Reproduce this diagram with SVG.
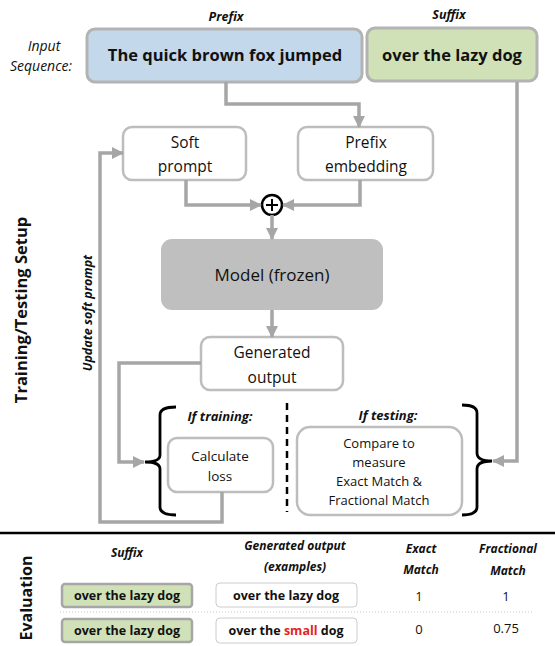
<svg xmlns="http://www.w3.org/2000/svg" width="555" height="646" viewBox="0 0 555 646">
<style>
text{font-family:"Open Sans","Noto Sans","Liberation Sans",sans-serif;fill:#111;text-anchor:middle}
.b{font-weight:bold}
.bi{font-weight:bold;font-style:italic}
.i{font-style:italic}
.box{fill:#fff;stroke:#bdbdbd;stroke-width:2.5}
.conn{fill:none;stroke:#a6a6a6;stroke-width:3.5}
.brace{fill:none;stroke:#000;stroke-width:2.8}
</style>
<defs>
<marker id="ah" markerUnits="userSpaceOnUse" markerWidth="12" markerHeight="12" viewBox="0 0 12 12" refX="11" refY="6" orient="auto">
<path d="M0,0 L12,6 L0,12 z" fill="#a6a6a6"/>
</marker>
</defs>
<rect width="555" height="646" fill="#fff"/>

<g id="labels">
<text class="bi" x="226" y="21" font-size="12.5">Prefix</text>
<text class="bi" x="449" y="19" font-size="12.5">Suffix</text>
<text class="i" x="44" y="51" font-size="14">Input</text>
<text class="i" x="41" y="71" font-size="14">Sequence:</text>
<text class="b" transform="translate(27,310) rotate(-90)" font-size="16.5">Training/Testing Setup</text>
<text class="bi" transform="translate(92,313) rotate(-90)" font-size="12.5">Update soft prompt</text>
<text class="bi" x="220" y="421" font-size="13">If training:</text>
<text class="bi" x="388" y="420" font-size="13">If testing:</text>
</g>

<g id="prefix">
<rect x="87" y="29" width="275" height="53" rx="8" fill="#c4d8ec" stroke="#b3b3b3" stroke-width="3"/>
<text class="b" x="225" y="61" font-size="16.5">The quick brown fox jumped</text>
</g>
<g id="suffix">
<rect x="367" y="28" width="170" height="53" rx="8" fill="#d0e1b8" stroke="#b3b3b3" stroke-width="3"/>
<text class="b" x="452" y="61" font-size="16.5">over the lazy dog</text>
</g>

<g id="softprompt">
<rect class="box" x="123" y="127" width="123" height="53" rx="9"/>
<text x="185" y="148" font-size="15.5">Soft</text>
<text x="185" y="172" font-size="15.5">prompt</text>
</g>
<g id="prefixemb">
<rect class="box" x="298" y="127" width="135" height="53" rx="9"/>
<text x="366" y="148" font-size="15.5">Prefix</text>
<text x="366" y="172" font-size="15.5">embedding</text>
</g>

<g id="plus">
<circle cx="272" cy="205" r="10" fill="#fff" stroke="#000" stroke-width="2.5"/>
<path d="M266,205 H278 M272,199 V211" stroke="#000" stroke-width="2"/>
</g>

<g id="model">
<rect x="161" y="239" width="222" height="71" rx="11" fill="#bfbfbf"/>
<text x="272" y="281" font-size="17">Model (frozen)</text>
</g>

<g id="generated">
<rect class="box" x="201" y="337" width="142" height="53" rx="9"/>
<text x="272" y="358" font-size="15.5">Generated</text>
<text x="272" y="383" font-size="15.5">output</text>
</g>

<g id="calcloss">
<rect class="box" x="168" y="438" width="105" height="54" rx="9"/>
<text x="220" y="461" font-size="13.5">Calculate</text>
<text x="220" y="481" font-size="13.5">loss</text>
</g>

<g id="compare">
<rect class="box" x="297" y="427" width="165" height="88" rx="13"/>
<text x="379" y="448" font-size="13">Compare to</text>
<text x="379" y="467" font-size="13">measure</text>
<text x="379" y="486" font-size="13">Exact Match &amp;</text>
<text x="379" y="505" font-size="13">Fractional Match</text>
</g>

<g id="braces">
<path class="brace" d="M176,407 Q160,407 160,415 V455 Q160,462 145,462 Q160,462 160,469 V507 Q160,515 176,515"/>
<path class="brace" d="M462,405 Q477,405 477,413 V453 Q477,461 492,461 Q477,461 477,469 V507 Q477,515 462,515"/>
<line x1="287" y1="403" x2="287" y2="512" stroke="#000" stroke-width="2.5" stroke-dasharray="7,5"/>
</g>

<g id="connectors">
<path class="conn" d="M226,82 V104 H359 V127" marker-end="url(#ah)"/>
<path class="conn" d="M517,82 V461 H493" marker-end="url(#ah)"/>
<path class="conn" d="M186,180 V205 H261" marker-end="url(#ah)"/>
<path class="conn" d="M360,180 V205 H283" marker-end="url(#ah)"/>
<path class="conn" d="M272,215 V239" marker-end="url(#ah)"/>
<path class="conn" d="M272,310 V337" marker-end="url(#ah)"/>
<path class="conn" d="M201,363 H119 V462 H144" marker-end="url(#ah)"/>
<path class="conn" d="M222,492 V522 H100 V153 H123" marker-end="url(#ah)"/>
</g>

<line x1="0" y1="533" x2="555" y2="533" stroke="#000" stroke-width="2.5"/>

<g id="evaluation">
<text class="b" transform="translate(32,598) rotate(-90)" font-size="16">Evaluation</text>
<text class="bi" x="127" y="557" font-size="12">Suffix</text>
<text class="bi" x="295" y="550" font-size="12">Generated output</text>
<text class="bi" x="295" y="571" font-size="12">(examples)</text>
<text class="bi" x="421" y="553" font-size="12">Exact</text>
<text class="bi" x="421" y="574" font-size="12">Match</text>
<text class="bi" x="508" y="553" font-size="12">Fractional</text>
<text class="bi" x="508" y="575" font-size="12">Match</text>
<line x1="60" y1="612" x2="532" y2="612" stroke="#c8c8c8" stroke-width="1" stroke-dasharray="1,2"/>
</g>

<g id="row1">
<rect x="62" y="584" width="130" height="23" rx="3" fill="#d0e1b8" stroke="#a6a6a6" stroke-width="2.5"/>
<text class="b" x="127" y="600" font-size="12.5">over the lazy dog</text>
<rect x="216" y="583" width="141" height="24" rx="4" fill="#fff" stroke="#cccccc" stroke-width="1"/>
<text class="b" x="286" y="600" font-size="12.5">over the lazy dog</text>
<text x="419" y="601" font-size="13">1</text>
<text x="506" y="601" font-size="13">1</text>
</g>
<g id="row2">
<rect x="62" y="619" width="130" height="23" rx="3" fill="#d0e1b8" stroke="#a6a6a6" stroke-width="2.5"/>
<text class="b" x="127" y="635" font-size="12.5">over the lazy dog</text>
<rect x="216" y="618" width="141" height="25" rx="4" fill="#fff" stroke="#cccccc" stroke-width="1"/>
<text class="b" x="286" y="635" font-size="12.5">over the <tspan fill="#e8231c">small</tspan> dog</text>
<text x="419" y="634" font-size="13">0</text>
<text x="506" y="633" font-size="13">0.75</text>
</g>
</svg>
